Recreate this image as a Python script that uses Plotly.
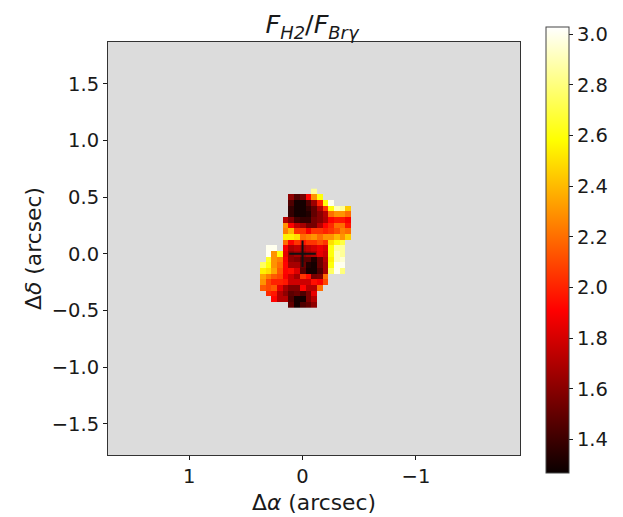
import plotly.graph_objects as go

N = None
ra_offsets = [0.35, 0.30, 0.25, 0.20, 0.15, 0.10, 0.05, 0.0, -0.05, -0.10, -0.15, -0.20, -0.25, -0.30, -0.35, -0.40]
dec_offsets = [0.55, 0.50, 0.45, 0.40, 0.35, 0.30, 0.25, 0.20, 0.15, 0.10, 0.05, 0.0, -0.05, -0.10, -0.15,
               -0.20, -0.25, -0.30, -0.35, -0.40, -0.45]
ratio = [
    [N, N, N, N, N, N, N, N, N, 2.85, N, N, N, N, N, N],
    [N, N, N, N, N, 1.62, 1.45, 1.55, 1.92, 2.3, 2.6, N, N, N, N, N],
    [N, N, N, N, N, 1.45, 1.3, 1.3, 1.45, 1.65, 2.0, 2.6, 3.0, N, N, N],
    [N, N, N, N, N, 1.38, 1.3, 1.3, 1.38, 1.5, 1.7, 2.05, 2.6, 2.9, 2.85, 2.45],
    [N, N, N, N, N, 1.38, 1.3, 1.3, 1.33, 1.5, 1.6, 1.72, 2.2, 2.3, 2.3, 2.2],
    [N, N, N, N, 1.72, 1.58, 1.42, 1.38, 1.38, 1.55, 1.6, 1.7, 1.92, 1.97, 1.97, 1.9],
    [N, N, N, N, 2.3, 1.92, 1.75, 1.68, 1.55, 1.55, 1.72, 1.92, 2.02, 2.2, 2.2, 1.97],
    [N, N, N, N, 2.25, 2.4, 2.05, 2.05, 1.9, 2.05, 2.05, 2.0, 2.05, 2.12, 2.25, 2.2],
    [N, N, N, N, 2.55, 2.55, 2.5, 2.2, 2.25, 2.3, 2.2, 2.3, 2.3, 2.4, 2.3, 2.45],
    [N, N, N, N, 2.2, 1.92, 2.05, 1.97, 2.05, 2.05, 2.12, 2.05, 2.5, 2.6, 2.7, N],
    [N, 3.0, 3.0, N, 1.9, 1.7, 1.75, 1.7, 1.75, 1.8, 1.87, 1.82, 2.6, 2.85, 2.85, N],
    [N, 3.0, 2.3, 2.6, 1.85, 1.62, 1.68, 1.62, 1.68, 1.72, 1.85, 1.78, 2.6, 2.9, 2.85, N],
    [N, 2.65, 2.3, 2.25, 1.9, 1.62, 1.58, 1.48, 1.48, 1.33, 1.52, 1.72, 2.55, 2.9, 2.95, N],
    [2.75, 2.6, 2.3, 2.2, 1.92, 1.68, 1.68, 1.52, 1.33, 1.3, 1.52, 1.68, 2.6, 3.0, 3.0, N],
    [2.55, 2.5, 2.35, 2.15, 1.92, 1.95, 1.82, 1.48, 1.3, 1.3, 1.45, 1.68, 2.75, 3.0, 2.8, N],
    [2.35, 2.25, 2.15, 2.1, 1.9, 1.78, 1.68, 2.05, 1.95, 1.55, 1.58, 2.2, N, N, N, N],
    [2.3, 2.1, 2.0, 2.0, 1.97, 1.78, 1.78, 1.78, 1.78, 1.95, 1.9, 2.1, N, N, N, N],
    [2.15, 2.1, 2.15, 1.85, 1.68, 1.58, 1.58, 1.92, 1.72, 1.72, 2.2, N, N, N, N, N],
    [N, 2.02, 1.97, 1.72, 1.62, 1.48, 1.52, 1.45, 1.58, 1.85, N, N, N, N, N, N],
    [N, N, 1.92, 1.72, 1.72, 1.45, 1.3, 1.3, 1.58, 1.72, N, N, N, N, N, N],
    [N, N, N, N, N, 1.5, 1.3, 1.45, 1.5, 1.62, N, N, N, N, N, N],
]
x_ticks = [1, 0, -1]
y_ticks = [-1.5, -1.0, -0.5, 0.0, 0.5, 1.0, 1.5]
cbar_ticks = [1.4, 1.6, 1.8, 2.0, 2.2, 2.4, 2.6, 2.8, 3.0]
centre_x = [0]
centre_y = [0]

hot = [[0.0, "#0a0000"], [0.365, "#ff0000"], [0.746, "#ffff00"], [1.0, "#ffffff"]]
ink = "#1a1a1a"
font = "DejaVu Sans"

fig = go.Figure()
fig.add_trace(go.Heatmap(
    x=ra_offsets, y=dec_offsets, z=ratio, colorscale=hot, zmin=1.27, zmax=3.03,
    hoverongaps=False,
    colorbar=dict(
        thickness=23, lenmode="pixels", len=446, x=1.062, xanchor="left", xpad=0,
        y=1.0375, yanchor="top", ypad=0, tickvals=cbar_ticks, ticktext=[f"{v:.1f}" for v in cbar_ticks],
        ticks="outside", ticklen=4, tickcolor=ink, outlinecolor="#444444", outlinewidth=1,
        tickfont=dict(family=font, size=19.5, color=ink),
    ),
))
fig.add_trace(go.Scatter(
    x=centre_x, y=centre_y, mode="markers", showlegend=False,
    marker=dict(symbol="cross-thin", size=19, line=dict(color="#111111", width=2)),
))
axis = dict(showgrid=False, zeroline=False, showline=True, mirror=True, linecolor="#333333", linewidth=1,
            ticks="outside", ticklen=4, tickcolor=ink, tickfont=dict(family=font, size=19.5, color=ink))
fig.update_layout(
    width=623, height=517, autosize=False,
    margin=dict(l=100, r=111, t=34, b=70),
    plot_bgcolor="#dcdcdc", paper_bgcolor="white",
    showlegend=False,
    title=dict(text="<i>F</i><sub><i>H2</i></sub>/<i>F</i><sub><i>Brγ</i></sub>", x=0.488, xanchor="center",
               y=0.968, yanchor="middle", font=dict(family=font, size=25.5, color=ink)),
    xaxis=dict(axis, range=[1.715, -1.917], tickvals=x_ticks, ticktext=["1", "0", "\u22121"],
               title=dict(text="Δ<i>α</i> (arcsec)", standoff=7, font=dict(family=font, size=21.8, color=ink))),
    yaxis=dict(axis, range=[-1.776, 1.87], tickvals=y_ticks,
               ticktext=[f"{v:.1f}".replace("-", "\u2212") for v in y_ticks],
               title=dict(text="Δ<i>δ</i> (arcsec)", standoff=4, font=dict(family=font, size=21.8, color=ink))),
)
fig.write_html("out.html")
